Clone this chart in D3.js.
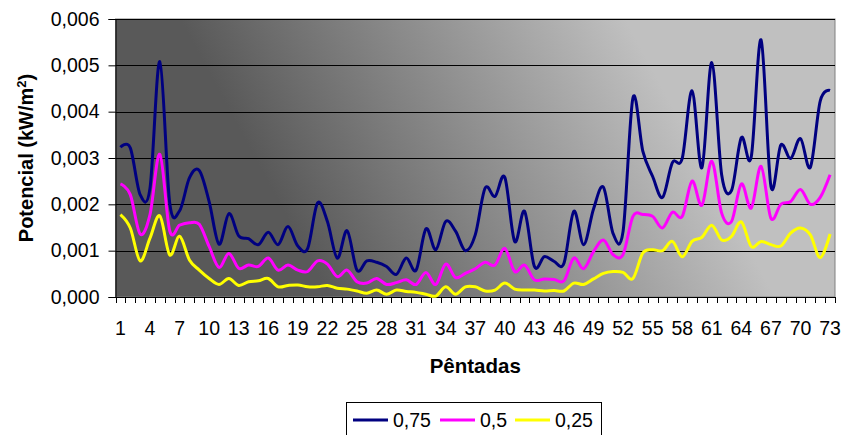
<!DOCTYPE html>
<html>
<head>
<meta charset="utf-8">
<script src="https://cdn.jsdelivr.net/npm/d3@7"></script>
<style>
  html, body { margin: 0; padding: 0; background: #ffffff; }
  svg { display: block; }
  text { font-family: "Liberation Sans", Arial, sans-serif; fill: #000; }
</style>
</head>
<body>
<svg id="chart" width="842" height="435"></svg>
<script>
// Pêntadas 1..73
const pentadas = d3.range(1, 74);
const xTickLabels = d3.range(1, 74, 3);
const yTicks = [0, 0.001, 0.002, 0.003, 0.004, 0.005, 0.006];

// Potencial (kW/m²), in units of 0.001
const serie075 = [3.23, 3.22, 2.21, 2.35, 5.08, 2.03, 1.86, 2.57, 2.73, 2.06,
  1.14, 1.80, 1.32, 1.26, 1.13, 1.40, 1.13, 1.52, 1.10, 1.05,
  2.03, 1.63, 0.84, 1.43, 0.58, 0.78, 0.75, 0.66, 0.49, 0.84,
  0.58, 1.47, 1.02, 1.63, 1.42, 1.00, 1.34, 2.35, 2.17, 2.58,
  1.20, 1.85, 0.66, 0.87, 0.77, 0.73, 1.85, 1.13, 1.90, 2.37,
  1.36, 1.42, 4.30, 3.15, 2.60, 2.15, 2.90, 2.99, 4.45, 2.79,
  5.06, 2.64, 2.30, 3.44, 3.02, 5.55, 2.39, 3.28, 2.99, 3.42,
  2.80, 4.23, 4.46];
const serie05 = [2.44, 2.21, 1.36, 1.78, 3.08, 1.43, 1.55, 1.60, 1.57, 1.09,
  0.64, 0.94, 0.62, 0.69, 0.66, 0.84, 0.58, 0.69, 0.58, 0.55,
  0.78, 0.71, 0.44, 0.58, 0.33, 0.30, 0.40, 0.27, 0.31, 0.37,
  0.27, 0.53, 0.27, 0.71, 0.42, 0.51, 0.61, 0.75, 0.69, 1.05,
  0.55, 0.69, 0.37, 0.39, 0.38, 0.35, 0.84, 0.61, 0.98, 1.23,
  0.91, 0.92, 1.74, 1.78, 1.74, 1.49, 1.83, 1.74, 2.50, 1.98,
  2.93, 1.81, 1.63, 2.44, 1.92, 2.82, 1.70, 2.00, 2.06, 2.32,
  2.00, 2.15, 2.64];
const serie025 = [1.78, 1.49, 0.78, 1.27, 1.75, 0.91, 1.31, 0.80, 0.58, 0.40,
  0.27, 0.40, 0.25, 0.33, 0.35, 0.40, 0.22, 0.25, 0.26, 0.22,
  0.22, 0.25, 0.19, 0.17, 0.13, 0.08, 0.15, 0.06, 0.15, 0.12,
  0.10, 0.06, 0.02, 0.22, 0.06, 0.22, 0.22, 0.13, 0.15, 0.30,
  0.17, 0.15, 0.15, 0.13, 0.14, 0.13, 0.30, 0.27, 0.39, 0.51,
  0.55, 0.53, 0.40, 0.95, 1.02, 1.00, 1.20, 0.87, 1.20, 1.29,
  1.55, 1.23, 1.31, 1.62, 1.09, 1.20, 1.13, 1.10, 1.38, 1.49,
  1.34, 0.85, 1.36];

const seriesNames = ["0,75", "0,5", "0,25"];
const seriesValues = [serie075, serie05, serie025];
const seriesColors = ["#000080", "#ff00ff", "#ffff00"];

const plot = { left: 115.5, right: 835, top: 19, bottom: 297 };
const fontSize = 19.5;
const svg = d3.select("#chart");
const fmt = d3.format(".3f");
const comma = v => fmt(v).replace(".", ",");

const x = d3.scaleBand().domain(pentadas).range([plot.left, plot.right]).paddingInner(0).paddingOuter(0);
const y = d3.scaleLinear().domain([0, 0.006]).range([plot.bottom, plot.top]);

// Diagonal grey gradient of the plot area
const defs = svg.append("defs");
const grad = defs.append("linearGradient")
  .attr("id", "bg")
  .attr("gradientUnits", "userSpaceOnUse")
  .attr("x1", 255).attr("y1", 158)
  .attr("x2", 600).attr("y2", -28);
grad.append("stop").attr("offset", "0").attr("stop-color", "#595959");
grad.append("stop").attr("offset", "1").attr("stop-color", "#c0c0c0");

svg.append("rect")
  .attr("x", plot.left).attr("y", plot.top)
  .attr("width", plot.right - plot.left).attr("height", plot.bottom - plot.top)
  .attr("fill", "url(#bg)")
  .attr("stroke", "#808080").attr("stroke-width", 1);

// Horizontal gridlines
svg.append("g").selectAll("line")
  .data(yTicks.filter(d => d > 0))
  .join("line")
  .attr("x1", plot.left).attr("x2", plot.right)
  .attr("y1", d => Math.round(y(d)) + 0.5).attr("y2", d => Math.round(y(d)) + 0.5)
  .attr("stroke", "#000").attr("stroke-width", 1);

// Y axis
const yAxis = d3.axisLeft(y).tickValues(yTicks).tickFormat(comma).tickSize(7).tickPadding(9);
const gy = svg.append("g").attr("transform", `translate(${plot.left},0)`).call(yAxis);
gy.select(".domain").attr("stroke", "#000");
gy.selectAll(".tick line").attr("stroke", "#000");
gy.selectAll("text").attr("font-size", fontSize).attr("font-family", "Liberation Sans, Arial, sans-serif");

// X axis: ticks at category boundaries, labels every third pentada
const gx = svg.append("g").attr("transform", `translate(0,${plot.bottom})`);
gx.append("line")
  .attr("x1", plot.left).attr("x2", plot.right)
  .attr("y1", 0.5).attr("y2", 0.5).attr("stroke", "#000");
const bounds = pentadas.map(p => x(p)).concat([x(73) + x.bandwidth()]);
gx.selectAll("line.tk").data(bounds).join("line")
  .attr("class", "tk")
  .attr("x1", d => Math.round(d) + 0.5).attr("x2", d => Math.round(d) + 0.5)
  .attr("y1", 0).attr("y2", 6).attr("stroke", "#000");
gx.selectAll("text").data(xTickLabels).join("text")
  .attr("x", d => x(d) + x.bandwidth() / 2)
  .attr("y", 38)
  .attr("text-anchor", "middle")
  .attr("font-size", fontSize)
  .text(d => d);

// Smoothed series lines
const line = d3.line()
  .x((d, i) => x(pentadas[i]) + x.bandwidth() / 2)
  .y(d => y(d / 1000))
  .curve(d3.curveCatmullRom.alpha(0));

svg.append("g").selectAll("path")
  .data(seriesValues)
  .join("path")
  .attr("d", d => line(d))
  .attr("fill", "none")
  .attr("stroke", (d, i) => seriesColors[i])
  .attr("stroke-width", 3)
  .attr("stroke-linejoin", "round");

// Axis titles
svg.append("text")
  .attr("x", (plot.left + plot.right) / 2).attr("y", 373)
  .attr("text-anchor", "middle")
  .attr("font-size", 20.5).attr("font-weight", "bold")
  .text("Pêntadas");

const yt = svg.append("text")
  .attr("transform", `translate(33,${(plot.top + plot.bottom) / 2}) rotate(-90)`)
  .attr("text-anchor", "middle")
  .attr("font-size", 20).attr("font-weight", "bold");
yt.append("tspan").text("Potencial (kW/m");
yt.append("tspan").attr("baseline-shift", "super").attr("font-size", 13).text("2");
yt.append("tspan").text(")");

// Legend
const legend = svg.append("g");
legend.append("rect")
  .attr("x", 346.5).attr("y", 402.5)
  .attr("width", 255).attr("height", 40)
  .attr("fill", "#fff").attr("stroke", "#000");
const legendPos = [{ lx: 353, tx: 393 }, { lx: 440, tx: 480 }, { lx: 515, tx: 555 }];
seriesNames.forEach((name, i) => {
  legend.append("line")
    .attr("x1", legendPos[i].lx).attr("x2", legendPos[i].lx + 35)
    .attr("y1", 420).attr("y2", 420)
    .attr("stroke", seriesColors[i]).attr("stroke-width", 3);
  legend.append("text")
    .attr("x", legendPos[i].tx).attr("y", 427)
    .attr("font-size", fontSize)
    .text(name);
});
</script>
</body>
</html>
